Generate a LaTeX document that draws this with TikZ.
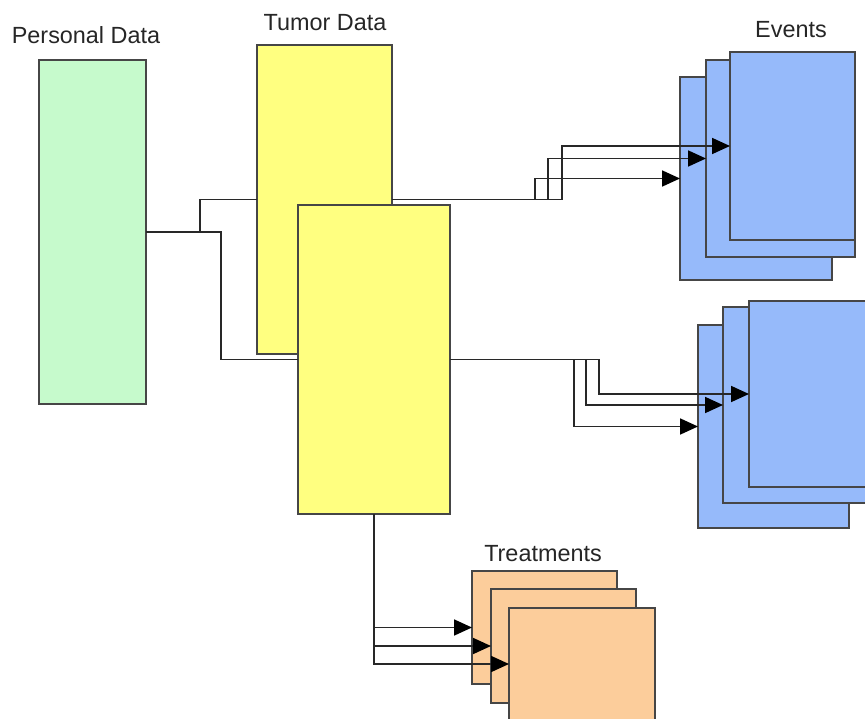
\documentclass[tikz,border=0pt]{standalone}
\usepackage{fontspec}
\setmainfont{Liberation Sans}
\usetikzlibrary{arrows.meta}
\definecolor{pdgreen}{RGB}{198,250,204}
\definecolor{tyellow}{RGB}{255,255,128}
\definecolor{evblue}{RGB}{150,186,250}
\definecolor{trorange}{RGB}{252,205,155}
\definecolor{edgegray}{RGB}{70,70,70}
\definecolor{linegray}{RGB}{40,40,40}
\begin{document}
\begin{tikzpicture}[x=1pt,y=-1pt,
  box/.style={draw=edgegray,line width=1.8pt,inner sep=0pt,outer sep=0pt,anchor=north west},
  conn/.style={draw=linegray,line width=1.8pt},
  arr/.style={conn,-{Triangle[length=18pt,width=16pt,black]}},
  lbl/.style={font=\fontsize{23.4}{28}\selectfont,text=black!85,anchor=base,inner sep=0pt}]
\clip (0,0) rectangle (865,719);
\fill[white] (0,0) rectangle (865,719);
% boxes
\node[box,fill=pdgreen,minimum width=107pt,minimum height=344pt] (pd) at (39,60) {};
\node[box,fill=tyellow,minimum width=135pt,minimum height=309pt] (t1) at (257,45) {};
\node[box,fill=tyellow,minimum width=152pt,minimum height=309pt] (t2) at (298,205) {};
% events top
\node[box,fill=evblue,minimum width=152pt,minimum height=203pt] (evA) at (680,77) {};
\node[box,fill=evblue,minimum width=149pt,minimum height=197pt] (evB) at (706,60) {};
\node[box,fill=evblue,minimum width=125pt,minimum height=188pt] (evC) at (730,52) {};
% events bottom
\node[box,fill=evblue,minimum width=151pt,minimum height=203pt] (evA2) at (698,325) {};
\node[box,fill=evblue,minimum width=150pt,minimum height=196pt] (evB2) at (723,307) {};
\node[box,fill=evblue,minimum width=126pt,minimum height=186pt] (evC2) at (749,301) {};
% treatments
\node[box,fill=trorange,minimum width=145pt,minimum height=113pt] (trA) at (472,571) {};
\node[box,fill=trorange,minimum width=145pt,minimum height=114pt] (trB) at (491,589) {};
\node[box,fill=trorange,minimum width=146pt,minimum height=112pt] (trC) at (509,608) {};
% labels
\node[lbl] (lpd) at (86,44) {Personal Data};
\node[lbl] (lt) at (325,31) {Tumor Data};
\node[lbl] (lev) at (791,38) {Events};
\node[lbl] (ltr) at (543,561) {Treatments};
% connectors
\draw[conn] (pd.east) -| (t1.west -| 200,0) -- (t1.west);
\draw[conn] (pd.east) -| (t2.west -| 221,0) -- (t2.west);
\draw[arr] (t1.east) -| (evC.west -| 562,0) -- (evC.west);
\draw[arr] (t1.east) -| (evB.west -| 548,0) -- (evB.west);
\draw[arr] (t1.east) -| (evA.west -| 535,0) -- (evA.west);
\draw[arr] (t2.east) -| (evC2.west -| 599,0) -- (evC2.west);
\draw[arr] (t2.east) -| (evB2.west -| 586,0) -- (evB2.west);
\draw[arr] (t2.east) -| (evA2.west -| 574,0) -- (evA2.west);
\draw[arr] (t2.south) |- (trA.west);
\draw[arr] (t2.south) |- (trB.west);
\draw[arr] (t2.south) |- (trC.west);
\end{tikzpicture}
\end{document}
